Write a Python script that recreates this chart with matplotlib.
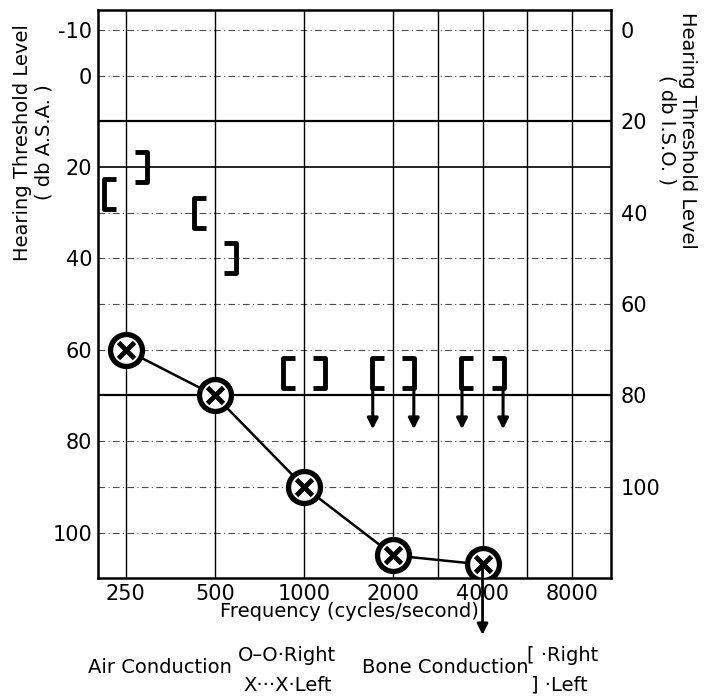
import matplotlib
matplotlib.use('agg')
import matplotlib.pyplot as plt
from matplotlib.path import Path

#audiogram data (dB A.S.A.)
freq_labels = ['250', '500', '1000', '2000', '4000', '8000']
freq_pos = [0, 1, 2, 3, 4, 5]              #octave index for each labelled frequency
grid_pos = [0, 1, 2, 3, 3.5, 4, 4.5, 5]    #vertical lines incl. 3000 and 6000

air_pos = [0, 1, 2, 3, 4]
air_db = [60, 70, 90, 105, 107]            #right and left coincide (O and X)
air_no_response = [4]                      #air conduction arrow

bone_pos = [0, 1, 2, 3, 4]
bone_right = [26, 30, 65, 65, 65]          # [
bone_left = [20, 40, 65, 65, 65]           # ]
bone_no_response = [3, 4]

asa_ticks = [-10, 0, 20, 40, 60, 80, 100]
iso_ticks = [0, 20, 40, 60, 80, 100]
iso_offset = 10                            #ISO = ASA + 10

plt.rcParams['font.family'] = ['DejaVu Sans']

fig = plt.figure(figsize=(7.04, 7.0), dpi=100)
ax = fig.add_axes([0.139, 0.174, 0.729, 0.812])
ax.set_xlim(-0.31, 5.44)
ax.set_ylim(110, -14.4)

#grid
for x in grid_pos:
    ax.axvline(x, color='k', lw=1.0, zorder=1)
for y in range(-10, 101, 10):
    if y in (10, 70):
        ax.axhline(y, color='k', lw=1.6, zorder=1)
    elif y == 20:
        ax.axhline(y, color='k', lw=1.2, zorder=1)
    else:
        ax.axhline(y, color='k', lw=0.8, ls=(0, (6, 3, 1, 3)), alpha=0.7, zorder=1)

for s in ax.spines.values():
    s.set_linewidth(1.8)

#air conduction
ax.plot(air_pos, air_db, color='k', lw=1.8, zorder=3)
ax.plot(air_pos, air_db, ls='none', marker='o', ms=23, mfc='white', mec='k', mew=3.8, zorder=4)
ax.plot(air_pos, air_db, ls='none', marker='x', ms=12, mec='k', mew=3.5, zorder=5)
for p in air_no_response:
    i = air_pos.index(p)
    ax.annotate('', xy=(p, air_db[i] + 16), xytext=(p, air_db[i]), annotation_clip=False,
                arrowprops=dict(arrowstyle='-|>', color='k', lw=2, mutation_scale=16), zorder=6)

#bone conduction brackets as custom markers
open_left = Path([(0.2, 0.5), (-0.2, 0.5), (-0.2, -0.5), (0.2, -0.5)],
                 [Path.MOVETO, Path.LINETO, Path.LINETO, Path.LINETO])
open_right = Path([(-0.2, 0.5), (0.2, 0.5), (0.2, -0.5), (-0.2, -0.5)],
                  [Path.MOVETO, Path.LINETO, Path.LINETO, Path.LINETO])
dx = 0.17
rx = [p - dx for p in bone_pos]
lx = [p + dx for p in bone_pos]
ax.plot(rx, bone_right, ls='none', marker=open_left, ms=22, mfc='none', mec='k', mew=3.5, zorder=4)
ax.plot(lx, bone_left, ls='none', marker=open_right, ms=22, mfc='none', mec='k', mew=3.5, zorder=4)
for p in bone_no_response:
    i = bone_pos.index(p)
    for x, y in ((rx[i] - 0.06, bone_right[i]), (lx[i] + 0.06, bone_left[i])):
        ax.annotate('', xy=(x, y + 13), xytext=(x, y + 3),
                    arrowprops=dict(arrowstyle='-|>', color='k', lw=2.2, mutation_scale=16), zorder=6)

#axes and labels
ax.set_xticks(freq_pos, freq_labels)
ax.set_yticks(asa_ticks, [str(t) for t in asa_ticks])
ax.tick_params(length=0, labelsize=15)
ax.tick_params(axis='y', pad=4)
ax.tick_params(axis='x', pad=4)

ax2 = ax.twinx()
ax2.set_ylim(ax.get_ylim())
ax2.set_yticks([t - iso_offset for t in iso_ticks], [str(t) for t in iso_ticks])
ax2.tick_params(length=0, labelsize=15, pad=7)
for s in ax2.spines.values():
    s.set_visible(False)

fig.text(0.497, 0.126, 'Frequency (cycles/second)', fontsize=14, ha='center', va='center')
fig.text(0.047, 0.797, 'Hearing Threshold Level\n( db A.S.A. )', fontsize=14,
         rotation=90, ha='center', va='center', linespacing=1.15)
fig.text(0.962, 0.814, 'Hearing Threshold Level\n( db I.S.O. )', fontsize=14,
         rotation=-90, ha='center', va='center', linespacing=1.15)

#legend text
fig.text(0.125, 0.046, 'Air Conduction', fontsize=14, va='center')
fig.text(0.338, 0.064, 'O\u2013O\u00b7Right', fontsize=14, va='center')
fig.text(0.346, 0.021, 'X\u00b7\u00b7\u00b7X\u00b7Left', fontsize=14, va='center')
fig.text(0.514, 0.046, 'Bone Conduction', fontsize=14, va='center')
fig.text(0.748, 0.064, '[ \u00b7Right', fontsize=14, va='center')
fig.text(0.754, 0.021, '] \u00b7Left', fontsize=14, va='center')

fig.savefig('out.png', dpi=100)
